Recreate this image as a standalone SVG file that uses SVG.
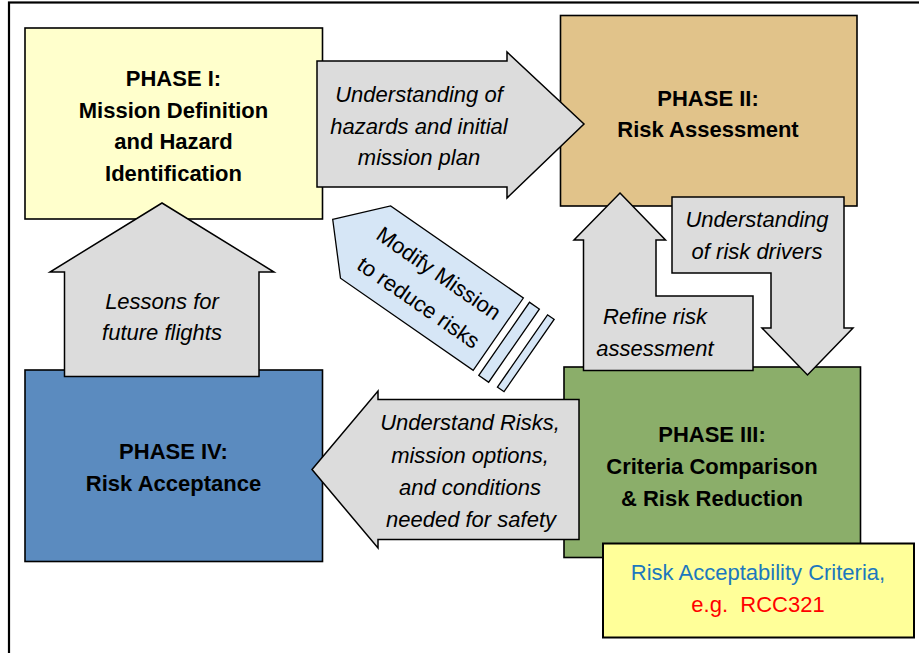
<svg xmlns="http://www.w3.org/2000/svg" width="919" height="653" viewBox="0 0 919 653">
<style>
.box{stroke:#000;stroke-width:1.6}
.ph{font-family:"Liberation Sans",Arial,sans-serif;font-size:22px;font-weight:bold;fill:#000;text-anchor:middle}
.arr{fill:#DCDCDC;stroke:#000;stroke-width:1.5;stroke-linejoin:miter}
.lbl{font-family:"Liberation Sans",Arial,sans-serif;font-size:22px;font-style:italic;fill:#000;text-anchor:middle}
.blu{fill:#D6E6F6;stroke:#000;stroke-width:1.3}
.bl{font-family:"Liberation Sans",Arial,sans-serif;font-size:22px;fill:#000;text-anchor:middle}
.crit{font-family:"Liberation Sans",Arial,sans-serif;font-size:22px;text-anchor:middle}
</style>
<rect width="919" height="653" fill="#fff"/>
<rect x="9" y="2.5" width="930" height="680" fill="none" stroke="#000" stroke-width="2.2"/>

<g id="phase1">
<rect class="box" x="25" y="28" width="297.5" height="191" fill="#FFFFCC"/>
<text class="ph" x="173.5" y="86">PHASE I:</text>
<text class="ph" x="173.5" y="117.5">Mission Definition</text>
<text class="ph" x="173.5" y="149">and Hazard</text>
<text class="ph" x="173.5" y="180.5">Identification</text>
</g>
<g id="phase2">
<rect class="box" x="560.5" y="15.5" width="296.5" height="190.5" fill="#E1C38A"/>
<text class="ph" x="708" y="105.5">PHASE II:</text>
<text class="ph" x="708" y="137">Risk Assessment</text>
</g>
<g id="phase3">
<rect class="box" x="564" y="367" width="296.5" height="190.5" fill="#8BAE6A"/>
<text class="ph" x="712" y="441.5">PHASE III:</text>
<text class="ph" x="712" y="473.5">Criteria Comparison</text>
<text class="ph" x="712" y="505.5">&amp; Risk Reduction</text>
</g>
<g id="phase4">
<rect class="box" x="25" y="370" width="297.5" height="191.5" fill="#5B8BBF"/>
<text class="ph" x="173.5" y="459">PHASE IV:</text>
<text class="ph" x="173.5" y="490.5">Risk Acceptance</text>
</g>
<g id="criteria">
<rect x="603" y="543.5" width="311" height="94" fill="#FFFF99" stroke="#000" stroke-width="2"/>
<text class="crit" x="758" y="580" fill="#1C78BE">Risk Acceptability Criteria,</text>
<text class="crit" x="758" y="611.5" fill="#FF0000" xml:space="preserve">e.g.  RCC321</text>
</g>

<g id="connectors">
<g id="arrow-hazards">
<polygon class="arr" points="317,61 507,61 507,52 584,124 507,198 507,187 317,187"/>
<text class="lbl" x="419" y="102">Understanding of</text>
<text class="lbl" x="419" y="133.5">hazards and initial</text>
<text class="lbl" x="419" y="164.5">mission plan</text>
</g>
<g id="arrow-drivers">
<polygon class="arr" points="672,197 844,197 844,328 853,328 807.5,375 762,328 771,328 771,273 672,273"/>
<text class="lbl" x="757" y="227">Understanding</text>
<text class="lbl" x="757" y="259">of risk drivers</text>
</g>
<g id="arrow-refine">
<polygon class="arr" points="620,193 665.5,240 656,240 656,296 753,296 753,370.5 583.5,370.5 583.5,240 574,240"/>
<text class="lbl" x="655" y="324">Refine risk</text>
<text class="lbl" x="655" y="356">assessment</text>
</g>
<g id="arrow-lessons">
<polygon class="arr" points="162,203 274,272 259,272 259,376.5 64.5,376.5 64.5,272 50,272"/>
<text class="lbl" x="162" y="309">Lessons for</text>
<text class="lbl" x="162" y="340">future flights</text>
</g>
<g id="arrow-understand">
<polygon class="arr" points="312,469.5 378,391 378,399.5 579,399.5 579,539.5 378,539.5 378,548"/>
<text class="lbl" x="470" y="430">Understand Risks,</text>
<text class="lbl" x="470" y="462.5">mission options,</text>
<text class="lbl" x="470" y="495">and conditions</text>
<text class="lbl" x="471" y="527">needed for safety</text>
</g>
<g id="arrow-modify" transform="translate(332.7,219.3) rotate(34.75)">
<polygon class="blu" points="0,0 40,-44 201.5,-44 201.5,44 40,44"/>
<polygon class="blu" points="209,-44 221,-44 221,45 209,45"/>
<polygon class="blu" points="231,-44 239,-44 239,44 231,44"/>
<text class="bl" x="118" y="-8.5">Modify Mission</text>
<text class="bl" x="118" y="27">to reduce risks</text>
</g>
</g>
</svg>
